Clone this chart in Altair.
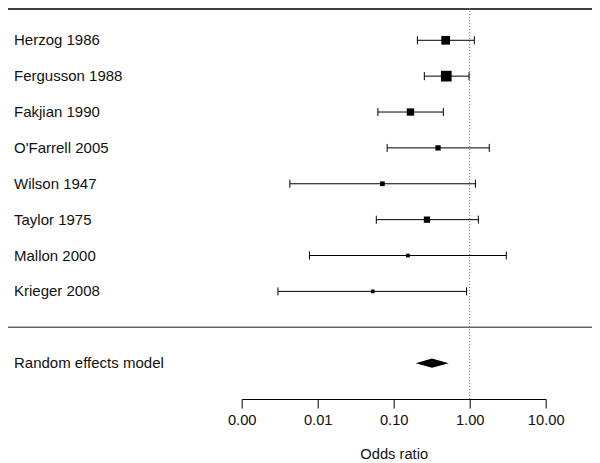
import altair as alt
import pandas as pd

# ---- data ----
studies = ["Herzog 1986", "Fergusson 1988", "Fakjian 1990", "O'Farrell 2005",
           "Wilson 1947", "Taylor 1975", "Mallon 2000", "Krieger 2008"]
odds_ratio = [0.483, 0.492, 0.166, 0.383, 0.071, 0.274, 0.154, 0.053]
ci_lower = [0.205, 0.253, 0.062, 0.082, 0.0043, 0.059, 0.0078, 0.0030]
ci_upper = [1.15, 0.98, 0.45, 1.81, 1.19, 1.30, 3.03, 0.91]
weights = [21.0, 31.7, 14.8, 7.8, 6.1, 11.0, 3.8, 3.8]  # percent

re_label = "Random effects model"
re_est = 0.319
re_lower = 0.195
re_upper = 0.529

tick_values = [0.001, 0.01, 0.1, 1, 10]
x_title = "Odds ratio"
null_value = 1

# ---- layout constants ----
W, H = 304, 391
PAD_L, PAD_T, PAD_R, PAD_B = 233.7, 0, 46.3, 64
FONT = "Liberation Sans"
SEP_ROW = 8
RE_ROW = 9
AXIS_ROW = 10
DIAMOND_HALF = 0.13

studies_df = pd.DataFrame({
    "study": studies,
    "est": odds_ratio,
    "lo": ci_lower,
    "hi": ci_upper,
    "w": weights,
    "row": list(range(len(studies))),
})
re_df = pd.DataFrame({
    "x": [re_lower, re_est, re_upper],
    "y": [RE_ROW, RE_ROW - DIAMOND_HALF, RE_ROW],
    "y2": [RE_ROW, RE_ROW + DIAMOND_HALF, RE_ROW],
})
label_df = pd.DataFrame({"label": studies + [re_label],
                         "row": list(range(len(studies))) + [RE_ROW]})
sep_df = pd.DataFrame({"row": [SEP_ROW]})
ref_df = pd.DataFrame({"x": [null_value], "y0": [-0.9], "y1": [AXIS_ROW]})
one_df = pd.DataFrame({"k": [0]})

x_scale = alt.Scale(type="log", domain=[0.001, 10], nice=False)
y_scale = alt.Scale(domain=[-0.9, AXIS_ROW], reverse=True, nice=False, zero=False)
x_axis = alt.Axis(values=tick_values, format=".2f", title=x_title, grid=False,
                  tickSize=9, labelPadding=4, titlePadding=20,
                  labelFlush=False, labelOverlap=False)

def X(field):
    return alt.X(field, type="quantitative", scale=x_scale, axis=x_axis)

def Y(field):
    return alt.Y(field, type="quantitative", scale=y_scale, axis=None)

# horizontal rules spanning the page
top_line = alt.Chart(one_df).mark_rule(color="#000", strokeWidth=1.5).encode(
    x=alt.value(-PAD_L), x2=alt.value(W + PAD_R), y=alt.value(1))
sep_line = alt.Chart(sep_df).mark_rule(color="#666", strokeWidth=1.5).encode(
    x=alt.value(-PAD_L), x2=alt.value(W + PAD_R), y=Y("row"))

ref_line = alt.Chart(ref_df).mark_rule(color="#777", strokeDash=[1, 2], strokeWidth=1).encode(
    x=X("x"), y=Y("y0"), y2="y1")

ci_lines = alt.Chart(studies_df).mark_rule(color="#000", strokeWidth=1).encode(
    x=X("lo"), x2="hi", y=Y("row"))
cap_lo = alt.Chart(studies_df).mark_rule(color="#000", strokeWidth=1,
                                         yOffset=-4, y2Offset=4).encode(
    x=X("lo"), y=Y("row"), y2="row")
cap_hi = alt.Chart(studies_df).mark_rule(color="#000", strokeWidth=1,
                                         yOffset=-4, y2Offset=4).encode(
    x=X("hi"), y=Y("row"), y2="row")
boxes = alt.Chart(studies_df).mark_square(color="#000", opacity=1, filled=True).encode(
    x=X("est"), y=Y("row"),
    size=alt.Size("w:Q", scale=alt.Scale(domain=[0, 100], range=[0, 361]), legend=None))

diamond = alt.Chart(re_df).mark_area(color="#000", orient="vertical").encode(
    x=X("x"), y=Y("y"), y2="y2")

labels = alt.Chart(label_df).mark_text(align="left", baseline="middle", font=FONT,
                                       fontSize=15, color="#111").encode(
    x=alt.value(14 - (8 + PAD_L)), y=Y("row"), text="label:N")

chart = alt.layer(top_line, sep_line, ref_line, ci_lines, cap_lo, cap_hi, boxes,
                  diamond, labels).properties(
    width=W, height=H,
    autosize=alt.AutoSizeParams(type="none"),
    padding={"left": PAD_L, "top": PAD_T, "right": PAD_R, "bottom": PAD_B},
).configure_view(stroke=None).configure_axis(
    domainColor="#000", tickColor="#000", labelColor="#111", titleColor="#111",
    labelFont=FONT, titleFont=FONT, labelFontSize=14.7, titleFontSize=14.7,
    titleFontWeight="normal", domainWidth=1, tickWidth=1,
)

chart.save("out.html", embed_options={"renderer": "svg", "actions": False})
